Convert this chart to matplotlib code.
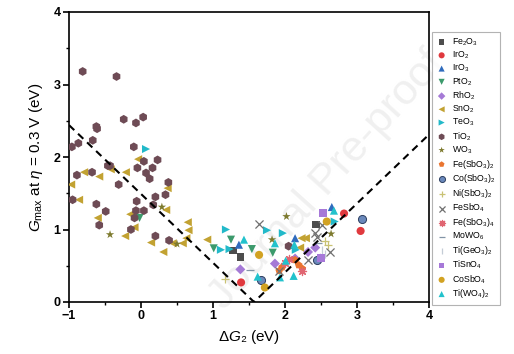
import matplotlib
matplotlib.use("Agg")
import matplotlib.pyplot as plt
from matplotlib.ticker import MultipleLocator

plt.rcParams['font.family'] = ['Liberation Sans', 'DejaVu Sans']
plt.rcParams['mathtext.fontset'] = 'custom'
plt.rcParams['mathtext.rm'] = 'Liberation Sans'
plt.rcParams['mathtext.it'] = 'Liberation Sans:italic'
plt.rcParams['mathtext.bf'] = 'Liberation Sans:bold'

# volcano guide lines
line_x = [-1.0, 1.57, 4.0]
line_y = [2.44, 0.0, 2.31]

fe2o3_x = [1.28, 1.38, 2.43]
fe2o3_y = [0.71, 0.62, 1.07]
iro2_x = [1.39, 2.82, 3.05]
iro2_y = [0.27, 1.22, 0.98]
iro3_x = [1.36, 2.14, 2.65]
iro3_y = [0.79, 0.88, 1.31]
pto2_x = [-0.02, 1.01, 1.25, 1.54, 1.83]
pto2_y = [1.16, 0.74, 0.86, 0.73, 0.68]
rho2_x = [1.38, 1.86, 2.14, 2.32, 2.42, 2.49]
rho2_y = [0.45, 0.53, 0.60, 0.69, 0.75, 0.60]
sno2_x = [-0.97, -0.86, -0.79, -0.58, -0.42, -0.21, -0.04, -0.60, -0.22, -0.15,
          -0.09, 0.14, 0.31, 0.35, 0.37, 0.44, 0.58, 0.65, 0.66, 0.63, 0.92,
          2.23, 2.29, 2.21]
sno2_y = [1.62, 1.41, 1.79, 1.73, 1.83, 1.79, 1.97, 1.16, 0.91, 1.21,
          1.03, 0.82, 0.69, 1.27, 1.57, 0.81, 0.81, 1.10, 0.99, 0.88, 0.86,
          0.88, 0.88, 0.75]
teo3_x = [0.07, 1.18, 1.11, 1.23, 1.75, 1.97, 2.15, 2.69]
teo3_y = [2.11, 1.00, 0.72, 0.73, 0.99, 0.95, 0.72, 1.11]
tio2_x = [-0.81, -0.34, -0.24, -0.07, 0.03, -0.62, -0.61, -0.67, -0.87, -0.96,
          -0.10, -0.46, -0.43, 0.04, 0.23, -0.05, 0.16, 0.07, -0.89, -0.68,
          0.12, -0.31, 0.38, -0.95, -0.62, -0.49, -0.58, 0.20, 0.34, -0.06,
          -0.07, 0.04, -0.14, 0.20, 0.39, 0.17, -0.09, 2.05]
tio2_y = [3.18, 3.11, 2.52, 2.47, 2.55, 2.42, 2.39, 2.23, 2.19, 2.14,
          2.14, 1.88, 1.88, 1.94, 1.96, 1.85, 1.85, 1.78, 1.75, 1.79,
          1.70, 1.62, 1.65, 1.41, 1.35, 1.25, 1.06, 1.45, 1.48, 1.39,
          1.26, 1.26, 1.00, 0.91, 0.85, 1.34, 1.16, 0.77]
wo3_x = [-0.43, 0.29, 0.50, 1.82, 2.02, 2.64]
wo3_y = [0.93, 1.31, 0.80, 0.86, 1.18, 0.94]
fesbo3_2_x = [1.92, 1.96, 2.14, 2.19, 2.24]
fesbo3_2_y = [0.43, 0.48, 0.58, 0.51, 0.46]
cosbo3_2_x = [1.66, 2.44, 3.07]
cosbo3_2_y = [0.31, 0.58, 1.14]
nisbo3_2_x = [1.16, 2.56, 2.60]
nisbo3_2_y = [0.32, 0.84, 0.79]
fesbo4_x = [1.64, 1.91, 2.32, 2.41, 2.44, 2.52, 2.63]
fesbo4_y = [1.08, 0.43, 0.58, 0.95, 0.90, 1.06, 0.69]
fesbo3_4_x = [2.00, 2.06, 2.23]
fesbo3_4_y = [0.54, 0.60, 0.43]
mowo6_x = [1.51, 2.46]
mowo6_y = [0.44, 0.82]
tigeo3_2_x = [2.51, 2.55]
tigeo3_2_y = [0.72, 0.66]
tisno4_x = [2.53, 2.50]
tisno4_y = [1.23, 0.61]
cosbo4_x = [1.64, 1.72, 2.58]
cosbo4_y = [0.65, 0.20, 1.11]
tiwo4_2_x = [1.43, 1.62, 1.86, 1.93, 2.01, 2.12, 2.13, 2.68]
tiwo4_2_y = [0.86, 0.35, 0.81, 0.34, 0.57, 0.36, 0.79, 1.26]

# (label, marker, color, x values, y values)
series = [
    ('Fe$_2$O$_3$', 's', '#4d4d4d', fe2o3_x, fe2o3_y),
    ('IrO$_2$', 'o', '#e0393e', iro2_x, iro2_y),
    ('IrO$_3$', '^', '#2f6bbd', iro3_x, iro3_y),
    ('PtO$_2$', 'v', '#3c9a6c', pto2_x, pto2_y),
    ('RhO$_2$', 'D', '#a57ad6', rho2_x, rho2_y),
    ('SnO$_2$', '<', '#c2a232', sno2_x, sno2_y),
    ('TeO$_3$', '>', '#22b9c9', teo3_x, teo3_y),
    ('TiO$_2$', 'h', '#6e4b55', tio2_x, tio2_y),
    ('WO$_3$', '*', '#7d7a2e', wo3_x, wo3_y),
    ('Fe(SbO$_3$)$_2$', 'p', '#ea7530', fesbo3_2_x, fesbo3_2_y),
    ('Co(SbO$_3$)$_2$', 'o', '#6a88bb', cosbo3_2_x, cosbo3_2_y),
    ('Ni(SbO$_3$)$_2$', '+', '#c9c274', nisbo3_2_x, nisbo3_2_y),
    ('FeSbO$_4$', 'x', '#707070', fesbo4_x, fesbo4_y),
    ('Fe(SbO$_3$)$_4$', (8, 2, 0), '#e06672', fesbo3_4_x, fesbo3_4_y),
    ('MoWO$_6$', '_', '#8294a6', mowo6_x, mowo6_y),
    ('Ti(GeO$_3$)$_2$', '|', '#c4ccd6', tigeo3_2_x, tigeo3_2_y),
    ('TiSnO$_4$', 's', '#a678d8', tisno4_x, tisno4_y),
    ('CoSbO$_4$', 'o', '#d2a222', cosbo4_x, cosbo4_y),
    ('Ti(WO$_4$)$_2$', '^', '#22c2cc', tiwo4_2_x, tiwo4_2_y),
]
line_markers = ('+', 'x', '_', '|', (8, 2, 0))

fig = plt.figure(figsize=(5.14, 3.54), dpi=100)
ax = fig.add_axes([69 / 514, 1 - 302 / 354, 360 / 514, 290 / 354])
ax.patch.set_alpha(0)

# faint watermark, behind everything
fig.text(327 / 514, 1 - 180 / 354, 'Journal Pre-proof', fontsize=31,
         color='#f0f0f0', rotation=48, ha='center', va='center', zorder=-5)

handles = []
for label, marker, color, xs, ys in series:
    if marker in line_markers:
        h = ax.scatter(xs, ys, marker=marker, s=34, c=color, linewidths=0.9,
                       label=label, zorder=3)
    else:
        size = {'*': 40, 'h': 40, 'D': 26, 's': 30}.get(marker, 34)
        edge = '#2d3f60' if label.startswith('Co(') else 'none'
        h = ax.scatter(xs, ys, marker=marker, s=size, c=color,
                       edgecolors=edge, linewidths=0.7 if edge != 'none' else 0,
                       label=label, zorder=3)
    handles.append(h)

ax.plot(line_x, line_y, color='black', lw=1.5, ls=(0, (3.5, 2.5)), zorder=4)

ax.set_xlim(-1, 4)
ax.set_ylim(0, 4)
ax.xaxis.set_major_locator(MultipleLocator(1))
ax.yaxis.set_major_locator(MultipleLocator(1))
ax.xaxis.set_minor_locator(MultipleLocator(0.5))
ax.yaxis.set_minor_locator(MultipleLocator(0.5))
ax.tick_params(which='major', direction='out', length=4, width=1.2,
               labelsize=9, pad=2)
ax.tick_params(which='minor', direction='out', length=2.5, width=1)
for t in ax.get_xticklabels() + ax.get_yticklabels():
    t.set_fontweight('bold')
for sp in ax.spines.values():
    sp.set_linewidth(1.2)

ax.set_xlabel('$\\Delta\\mathit{G}$₂ (eV)', fontsize=11, labelpad=4)
ax.set_ylabel('$\\mathit{G}_{\\mathrm{max}}$ at $\\mathit{\\eta}$ = 0.3 V (eV)',
              fontsize=11, labelpad=6)

leg = fig.legend(handles=handles, loc='upper left',
                 bbox_to_anchor=(432 / 514, 1 - 32 / 354), fontsize=6.3,
                 frameon=True, fancybox=False, edgecolor='#a0a0a0',
                 labelspacing=0.2, handletextpad=0.6, borderpad=0.5,
                 handlelength=1.2, scatterpoints=1, borderaxespad=0,
                 markerscale=0.75)
leg.get_frame().set_linewidth(0.8)

fig.savefig('out.png', dpi=100)
